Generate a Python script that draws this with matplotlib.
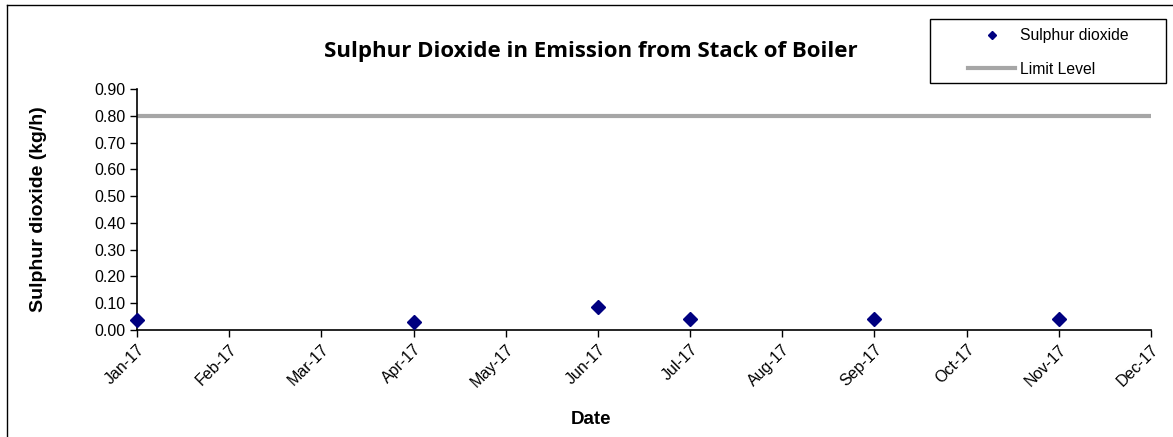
import matplotlib
matplotlib.use('Agg')
import matplotlib.pyplot as plt
from matplotlib.lines import Line2D
from matplotlib.patches import Rectangle
from matplotlib.ticker import FormatStrFormatter

# axis months (Excel shows them evenly spaced)
months = ['Jan-17', 'Feb-17', 'Mar-17', 'Apr-17', 'May-17', 'Jun-17',
          'Jul-17', 'Aug-17', 'Sep-17', 'Oct-17', 'Nov-17', 'Dec-17']

# sample months and measured values
sample_months = ['Jan-17', 'Apr-17', 'Jun-17', 'Jul-17', 'Sep-17', 'Nov-17']
so2 = [0.036, 0.030, 0.086, 0.041, 0.040, 0.040]

limit_months = ['Jan-17', 'Dec-17']
limit = [0.80, 0.80]

plt.rcParams['font.family'] = ['Liberation Sans', 'DejaVu Sans']

fig = plt.figure(figsize=(11.73, 4.37), dpi=100)
ax = fig.add_axes([137/1173, 1-330/437, (1151-137)/1173, (330-89)/437])

xs = [months.index(m) for m in sample_months]
xl = [months.index(m) for m in limit_months]

ax.plot(xl, limit, color='#A6A6A6', lw=3, label='Limit Level', zorder=2)
ax.plot(xs, so2, ls='none', marker='D', ms=7, color='#000080',
        label='Sulphur dioxide', zorder=3, clip_on=False)

ax.set_xlim(0, len(months) - 1)
ax.set_ylim(0, 0.9)
ax.set_yticks([i/10 for i in range(10)])
ax.yaxis.set_major_formatter(FormatStrFormatter('%.2f'))
ax.set_xticks(range(len(months)))
ax.set_xticklabels(months, rotation=45, ha='right', rotation_mode='anchor')

for s in ['top', 'right']:
    ax.spines[s].set_visible(False)
for s in ['left', 'bottom']:
    ax.spines[s].set_linewidth(1.2)

ax.tick_params(axis='both', direction='out', length=5, width=1, labelsize=11.5)

ax.set_ylabel('Sulphur dioxide (kg/h)', fontsize=14, fontweight='bold')
ax.yaxis.set_label_coords((47-137)/1014, 0.5)
ax.set_xlabel('Date', fontsize=13.5, fontweight='bold')
ax.xaxis.set_label_coords((591-137)/1014, -(411-330)/241)

fig.text(591/1173, 1-52/437, 'Sulphur Dioxide in Emission from Stack of Boiler',
         ha='center', va='center', fontsize=16, fontweight='bold',
         family=['Open Sans', 'DejaVu Sans'])

h, l = ax.get_legend_handles_labels()
leg = fig.legend(h[::-1], l[::-1], loc='center left',
                 bbox_to_anchor=(968/1173, 1-52.5/437), fontsize=11.3,
                 frameon=False, markerscale=0.65, handlelength=3.0,
                 handletextpad=0.3, borderpad=0, labelspacing=1.15,
                 borderaxespad=0)

# legend frame as Excel draws it
fig.add_artist(Rectangle((930/1173, 1-83/437), 236/1173, 64/437,
                         transform=fig.transFigure, fill=False,
                         edgecolor='black', lw=1))

# chart area border (only left and top visible in crop)
fig.add_artist(Line2D([7/1173, 7/1173], [0, 1-5/437], color='black', lw=1))
fig.add_artist(Line2D([7/1173, 1], [1-5/437, 1-5/437], color='black', lw=1))

fig.savefig('out.png', dpi=100)
